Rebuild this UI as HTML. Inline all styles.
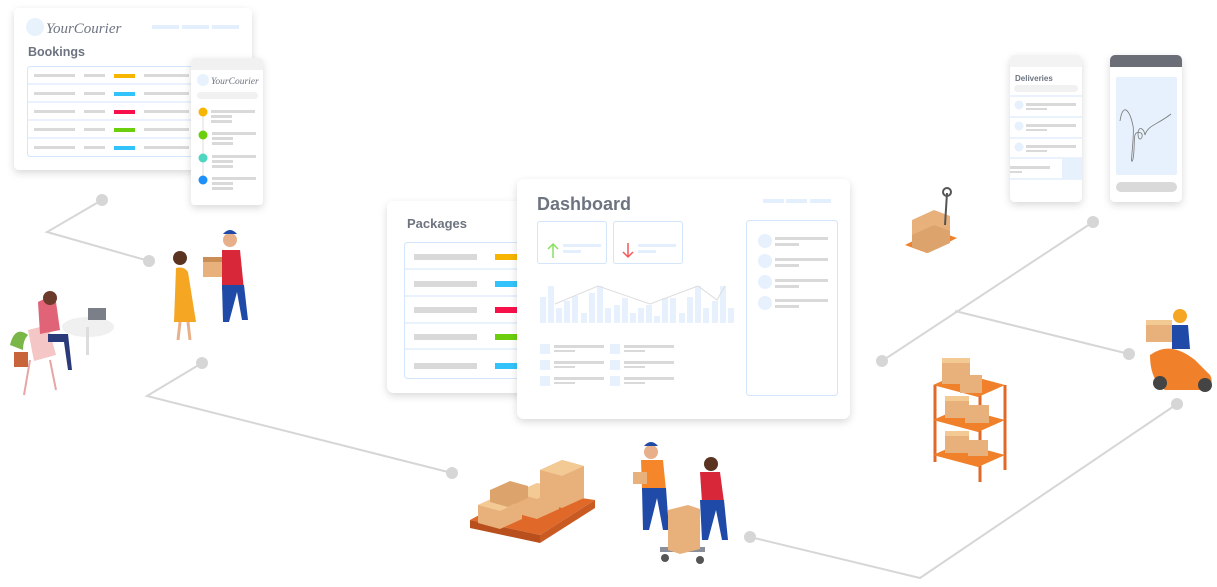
<!DOCTYPE html>
<html><head><meta charset="utf-8"><style>
body{margin:0;background:#fff;width:1217px;height:582px;overflow:hidden;font-family:"Liberation Sans",sans-serif}
</style></head><body>
<svg width="1217" height="582" viewBox="0 0 1217 582" xmlns="http://www.w3.org/2000/svg">
<defs>
<filter id="sh" x="-20%" y="-20%" width="140%" height="150%"><feDropShadow dx="0" dy="3" stdDeviation="4" flood-color="#000" flood-opacity="0.15"/></filter>
</defs>
<g stroke="#d6d6d6" stroke-width="2" fill="none">
<polyline points="102,200 47,232 149,261"/>
<polyline points="202,363 147,396 452,473"/>
<polyline points="750,537 920,578 1177,404"/>
<polyline points="882,361 1093,222"/>
<polyline points="955,311 1129,354"/>
</g>
<g fill="#d6d6d6">
<circle cx="102" cy="200" r="6"/><circle cx="149" cy="261" r="6"/>
<circle cx="202" cy="363" r="6"/><circle cx="452" cy="473" r="6"/>
<circle cx="750" cy="537" r="6"/><circle cx="1177" cy="404" r="6"/>
<circle cx="882" cy="361" r="6"/><circle cx="1093" cy="222" r="6"/>
<circle cx="1129" cy="354" r="6"/>
</g>

<!-- Bookings card -->
<rect x="14" y="8" width="238" height="162" rx="5" fill="#fff" filter="url(#sh)"/>
<circle cx="35" cy="27" r="9" fill="#e8f2fd"/>
<text x="46" y="33" font-family="Liberation Serif,serif" font-style="italic" font-size="15" fill="#6d7480">YourCourier</text>
<rect x="152" y="25" width="27" height="4" fill="#e3effc"/><rect x="182" y="25" width="27" height="4" fill="#e3effc"/><rect x="212" y="25" width="27" height="4" fill="#e3effc"/>
<text x="28" y="56" font-size="12.5" font-weight="bold" fill="#6d7480">Bookings</text>
<rect x="27.5" y="66.5" width="170" height="90" rx="3" fill="#fff" stroke="#d3e6fb"/>
<g stroke="#d3e6fb"><line x1="28" y1="84" x2="197" y2="84"/><line x1="28" y1="102" x2="197" y2="102"/><line x1="28" y1="120" x2="197" y2="120"/><line x1="28" y1="138" x2="197" y2="138"/></g>
<g fill="#d9d9d9">
<rect x="34" y="74" width="41" height="3"/><rect x="84" y="74" width="21" height="3"/><rect x="144" y="74" width="45" height="3"/>
<rect x="34" y="92" width="41" height="3"/><rect x="84" y="92" width="21" height="3"/><rect x="144" y="92" width="45" height="3"/>
<rect x="34" y="110" width="41" height="3"/><rect x="84" y="110" width="21" height="3"/><rect x="144" y="110" width="45" height="3"/>
<rect x="34" y="128" width="41" height="3"/><rect x="84" y="128" width="21" height="3"/><rect x="144" y="128" width="45" height="3"/>
<rect x="34" y="146" width="41" height="3"/><rect x="84" y="146" width="21" height="3"/><rect x="144" y="146" width="45" height="3"/>
</g>
<rect x="114" y="74" width="21" height="4" fill="#f7b500"/><rect x="114" y="92" width="21" height="4" fill="#33c3fb"/><rect x="114" y="110" width="21" height="4" fill="#f7104a"/><rect x="114" y="128" width="21" height="4" fill="#6cce0c"/><rect x="114" y="146" width="21" height="4" fill="#33c3fb"/>

<!-- phone small -->
<rect x="191" y="58" width="72" height="147" rx="4" fill="#fff" filter="url(#sh)"/>
<path d="M191 62 a4 4 0 0 1 4 -4 h64 a4 4 0 0 1 4 4 v8 h-72z" fill="#f1f1f1"/>
<circle cx="203" cy="80" r="6" fill="#e8f2fd"/>
<text x="211" y="84" font-family="Liberation Serif,serif" font-style="italic" font-size="9.5" fill="#6d7480">YourCourier</text>
<rect x="197" y="92" width="61" height="7" rx="3.5" fill="#f1f1f1"/>
<line x1="203" y1="112" x2="203" y2="180" stroke="#ddd"/>
<circle cx="203" cy="112" r="4.5" fill="#f7b500"/><circle cx="203" cy="135" r="4.5" fill="#6cce0c"/><circle cx="203" cy="158" r="4.5" fill="#4ed6c0"/><circle cx="203" cy="180" r="4.5" fill="#1f8ffa"/>
<g fill="#d9d9d9">
<rect x="211" y="110" width="44" height="3"/><rect x="211" y="115" width="21" height="3"/><rect x="211" y="120" width="21" height="3"/>
<rect x="212" y="132" width="44" height="3"/><rect x="212" y="137" width="21" height="3"/><rect x="212" y="142" width="21" height="3"/>
<rect x="212" y="155" width="44" height="3"/><rect x="212" y="160" width="21" height="3"/><rect x="212" y="165" width="21" height="3"/>
<rect x="212" y="177" width="44" height="3"/><rect x="212" y="182" width="21" height="3"/><rect x="212" y="187" width="21" height="3"/>
</g>

<!-- Packages -->
<rect x="387" y="201" width="150" height="192" rx="7" fill="#fff" filter="url(#sh)"/>
<text x="407" y="228" font-size="13" font-weight="bold" fill="#6d7480">Packages</text>
<rect x="404.5" y="242.5" width="120" height="136" rx="3" fill="#fff" stroke="#d3e6fb"/>
<g stroke="#d3e6fb"><line x1="405" y1="269" x2="525" y2="269"/><line x1="405" y1="296" x2="525" y2="296"/><line x1="405" y1="323" x2="525" y2="323"/><line x1="405" y1="349" x2="525" y2="349"/></g>
<g fill="#d9d9d9"><rect x="414" y="254" width="63" height="6"/><rect x="414" y="281" width="63" height="6"/><rect x="414" y="307" width="63" height="6"/><rect x="414" y="334" width="63" height="6"/><rect x="414" y="363" width="63" height="6"/></g>
<rect x="495" y="254" width="25" height="6" fill="#f7b500"/><rect x="495" y="281" width="25" height="6" fill="#33c3fb"/><rect x="495" y="307" width="25" height="6" fill="#f7104a"/><rect x="495" y="334" width="25" height="6" fill="#6cce0c"/><rect x="495" y="363" width="25" height="6" fill="#33c3fb"/>

<!-- Dashboard -->
<rect x="517" y="179" width="333" height="240" rx="7" fill="#fff" filter="url(#sh)"/>
<text x="537" y="210" font-size="18" font-weight="bold" fill="#6d7480">Dashboard</text>
<rect x="763" y="199" width="21" height="4" fill="#e3effc"/><rect x="786" y="199" width="21" height="4" fill="#e3effc"/><rect x="810" y="199" width="21" height="4" fill="#e3effc"/>
<rect x="537.5" y="221.5" width="69" height="42" rx="2" fill="#fff" stroke="#d3e6fb"/>
<rect x="613.5" y="221.5" width="69" height="42" rx="2" fill="#fff" stroke="#d3e6fb"/>
<path d="M553 258 v-14 m-5 5 l5 -5 l5 5" stroke="#86e060" stroke-width="1.5" fill="none"/>
<path d="M628 243 v14 m-5 -5 l5 5 l5 -5" stroke="#f45a5a" stroke-width="1.5" fill="none"/>
<rect x="563" y="244" width="38" height="3" fill="#e3effc"/><rect x="563" y="250" width="18" height="3" fill="#e3effc"/>
<rect x="638" y="244" width="38" height="3" fill="#e3effc"/><rect x="638" y="250" width="18" height="3" fill="#e3effc"/>
<g fill="#e6f1fd">
<rect x="540" y="297" width="6" height="26"/><rect x="548" y="286" width="6" height="37"/><rect x="556" y="308" width="6" height="15"/><rect x="564" y="301" width="6" height="22"/><rect x="572" y="296" width="6" height="27"/><rect x="581" y="313" width="6" height="10"/><rect x="589" y="293" width="6" height="30"/><rect x="597" y="286" width="6" height="37"/><rect x="605" y="308" width="6" height="15"/><rect x="614" y="305" width="6" height="18"/><rect x="622" y="298" width="6" height="25"/><rect x="630" y="313" width="6" height="10"/><rect x="638" y="308" width="6" height="15"/><rect x="646" y="305" width="6" height="18"/><rect x="654" y="316" width="6" height="7"/><rect x="662" y="298" width="6" height="25"/><rect x="670" y="298" width="6" height="25"/><rect x="679" y="313" width="6" height="10"/><rect x="687" y="297" width="6" height="26"/><rect x="695" y="286" width="6" height="37"/><rect x="703" y="308" width="6" height="15"/><rect x="712" y="301" width="6" height="22"/><rect x="720" y="286" width="6" height="37"/><rect x="728" y="308" width="6" height="15"/>
</g>
<polyline points="555,304 598,286 650,304 698,286 717,300 725,286" stroke="#ddd" fill="none"/>
<g fill="#e6f1fd"><rect x="540" y="344" width="10" height="10"/><rect x="540" y="360" width="10" height="10"/><rect x="540" y="376" width="10" height="10"/><rect x="610" y="344" width="10" height="10"/><rect x="610" y="360" width="10" height="10"/><rect x="610" y="376" width="10" height="10"/></g>
<g fill="#d9d9d9"><rect x="554" y="345" width="50" height="3"/><rect x="554" y="350" width="21" height="2"/><rect x="554" y="361" width="50" height="3"/><rect x="554" y="366" width="21" height="2"/><rect x="554" y="377" width="50" height="3"/><rect x="554" y="382" width="21" height="2"/>
<rect x="624" y="345" width="50" height="3"/><rect x="624" y="350" width="21" height="2"/><rect x="624" y="361" width="50" height="3"/><rect x="624" y="366" width="21" height="2"/><rect x="624" y="377" width="50" height="3"/><rect x="624" y="382" width="21" height="2"/></g>
<rect x="746.5" y="220.5" width="91" height="175" rx="3" fill="#fff" stroke="#d3e6fb"/>
<g fill="#e6f1fd"><circle cx="765" cy="241" r="7"/><circle cx="765" cy="261" r="7"/><circle cx="765" cy="282" r="7"/><circle cx="765" cy="303" r="7"/></g>
<g fill="#d9d9d9"><rect x="775" y="237" width="53" height="3"/><rect x="775" y="243" width="24" height="3"/><rect x="775" y="258" width="53" height="3"/><rect x="775" y="264" width="24" height="3"/><rect x="775" y="279" width="53" height="3"/><rect x="775" y="285" width="24" height="3"/><rect x="775" y="299" width="53" height="3"/><rect x="775" y="305" width="24" height="3"/></g>

<!-- Deliveries phone -->
<rect x="1010" y="55" width="72" height="147" rx="5" fill="#fff" filter="url(#sh)"/>
<path d="M1010 60 a5 5 0 0 1 5 -5 h62 a5 5 0 0 1 5 5 v7 h-72z" fill="#f3f3f3"/>
<text x="1015" y="81" font-size="8" font-weight="bold" fill="#6d7480">Deliveries</text>
<rect x="1014" y="85" width="64" height="7" rx="3.5" fill="#f1f1f1"/>
<g stroke="#d3e6fb"><line x1="1010" y1="96" x2="1082" y2="96"/><line x1="1010" y1="117" x2="1082" y2="117"/><line x1="1010" y1="138" x2="1082" y2="138"/><line x1="1010" y1="158" x2="1082" y2="158"/><line x1="1010" y1="179" x2="1082" y2="179"/></g>
<rect x="1062" y="158" width="20" height="21" fill="#e6f1fd"/>
<g fill="#e6f1fd"><circle cx="1019" cy="105" r="4.5"/><circle cx="1019" cy="126" r="4.5"/><circle cx="1019" cy="147" r="4.5"/></g>
<g fill="#d9d9d9"><rect x="1026" y="103" width="50" height="3"/><rect x="1026" y="108" width="21" height="2"/><rect x="1026" y="124" width="50" height="3"/><rect x="1026" y="129" width="21" height="2"/><rect x="1026" y="145" width="50" height="3"/><rect x="1026" y="150" width="21" height="2"/><rect x="1010" y="166" width="40" height="3"/><rect x="1010" y="171" width="12" height="2"/></g>
<!-- Signature phone -->
<rect x="1110" y="55" width="72" height="147" rx="5" fill="#fff" filter="url(#sh)"/>
<path d="M1110 60 a5 5 0 0 1 5 -5 h62 a5 5 0 0 1 5 5 v7 h-72z" fill="#6b6e76"/>
<rect x="1116" y="77" width="61" height="98" rx="2" fill="#e6f1fd"/>
<path d="M1120 121 c3 -20 10 -10 13 5 c2 8 -4 45 0 33 c3 -15 -2 -30 8 -26 c4 3 -3 12 -3 0 c1 -8 6 -4 7 2 c3 -10 12 -10 26 -21" stroke="#777" fill="none" stroke-width="0.8"/>
<rect x="1116" y="182" width="61" height="10" rx="5" fill="#d9d9d9"/>

<!-- Illustrations (approximate) -->
<!-- desk woman -->
<ellipse cx="88" cy="327" rx="26" ry="10" fill="#f0f0f0"/>
<rect x="86" y="327" width="3" height="28" fill="#ddd"/>
<rect x="88" y="308" width="18" height="12" fill="#7a7f88"/>
<path d="M28 330 l20 -5 l8 30 l-22 6z" fill="#f5c6c6"/>
<path d="M38 302 q10 -6 18 0 l4 28 l-20 4z" fill="#e06377"/>
<circle cx="50" cy="298" r="7" fill="#6b3a2a"/>
<path d="M48 334 l20 0 l4 36 l-4 0 l-4 -28 l-16 0z" fill="#2a3a7a"/>
<path d="M30 360 l-6 35 M50 360 l6 30" stroke="#e7a5a5" stroke-width="2"/>
<path d="M10 345 q5 -20 18 -10 q-5 5 -5 15z" fill="#7ab648"/>
<rect x="14" y="352" width="14" height="15" fill="#c8643a"/>
<!-- handover -->
<circle cx="180" cy="258" r="7" fill="#5a3420"/>
<path d="M176 268 q8 -2 12 4 l8 50 l-22 0 z" fill="#f5a623"/>
<path d="M180 322 l-2 18 M188 322 l2 18" stroke="#e8b08a" stroke-width="3"/>
<rect x="203" y="257" width="26" height="20" fill="#e8b07a"/>
<rect x="203" y="257" width="26" height="5" fill="#c98d55"/>
<circle cx="230" cy="240" r="7" fill="#e8b08a"/>
<path d="M223 234 q7 -8 14 0z" fill="#1f4aa8"/>
<path d="M222 250 l18 0 l4 40 l-22 0z" fill="#d9273a"/>
<path d="M222 285 l22 0 l4 35 l-6 0 l-5 -28 l-8 30 l-6 0z" fill="#1f4aa8"/>
<!-- pallet boxes -->
<path d="M470 520 l55 -30 l70 10 l-55 35z" fill="#e0692a"/>
<path d="M470 520 l0 8 l70 15 l0 -8z" fill="#b84f1c"/>
<path d="M540 535 l55 -35 l0 8 l-55 35z" fill="#c85a22"/>
<g>
<path d="M478 505 l22 -10 l22 6 l0 18 l-22 10 l-22 -6z" fill="#e8b07a"/>
<path d="M500 495 l22 6 l-22 10 l-22 -6z" fill="#f3c994"/>
<path d="M515 493 l22 -10 l22 6 l0 20 l-22 10 l-22 -6z" fill="#e8b07a"/>
<path d="M537 483 l22 6 l-22 10 l-22 -6z" fill="#f3c994"/>
<path d="M540 470 l22 -10 l22 6 l0 32 l-22 10 l-22 -6z" fill="#e8b07a"/>
<path d="M562 460 l22 6 l-22 10 l-22 -6z" fill="#f3c994"/>
<path d="M490 490 l20 -9 l18 5 l0 12 l-20 9 l-18 -5z" fill="#dca46c"/>
</g>
<!-- workers -->
<circle cx="651" cy="452" r="7" fill="#e8b08a"/>
<path d="M644 446 q7 -8 14 0z" fill="#1f4aa8"/>
<path d="M641 460 l22 0 l3 30 l-24 0z" fill="#f5872a"/>
<path d="M642 488 l24 0 l3 42 l-6 0 l-6 -32 l-8 32 l-6 0z" fill="#1f4aa8"/>
<rect x="633" y="472" width="14" height="12" fill="#e8b07a"/>
<circle cx="711" cy="464" r="7" fill="#5a3420"/>
<path d="M700 472 l20 0 l4 30 l-22 0z" fill="#d9273a"/>
<path d="M700 500 l24 0 l4 40 l-6 0 l-6 -30 l-8 30 l-6 0z" fill="#1f4aa8"/>
<path d="M660 552 l45 0 l0 -5 l-45 0z" fill="#8a8f99"/>
<path d="M668 510 l20 -5 l12 4 l0 40 l-20 5 l-12 -4z" fill="#e8b07a"/>
<circle cx="665" cy="558" r="4" fill="#555"/><circle cx="700" cy="560" r="4" fill="#555"/>
<!-- pallet jack -->
<path d="M905 245 l30 -15 l22 8 l-30 15z" fill="#f0812a"/>
<path d="M912 220 l22 -10 l16 6 l0 16 l-22 10 l-16 -6z" fill="#e8b07a"/>
<path d="M912 235 l22 -10 l16 6 l0 12 l-22 10 l-16 -6z" fill="#dca46c"/>
<path d="M945 225 l2 -32" stroke="#555" stroke-width="2"/>
<circle cx="947" cy="192" r="4" fill="none" stroke="#555" stroke-width="2"/>
<!-- shelf -->
<g stroke="#e0692a" stroke-width="3">
<line x1="935" y1="385" x2="935" y2="462"/><line x1="980" y1="395" x2="980" y2="482"/><line x1="1005" y1="385" x2="1005" y2="470"/>
</g>
<path d="M933 385 l45 12 l27 -12 l-45 -12z M933 420 l45 12 l27 -12 l-45 -12z M933 455 l45 12 l27 -12 l-45 -12z" fill="#f0812a"/>
<g fill="#e8b07a">
<rect x="942" y="362" width="28" height="22"/><rect x="960" y="375" width="22" height="18"/>
<rect x="945" y="400" width="24" height="18"/><rect x="965" y="405" width="24" height="18"/>
<rect x="945" y="435" width="24" height="18"/><rect x="968" y="440" width="20" height="16"/>
</g>
<g fill="#f3c994"><rect x="942" y="358" width="28" height="5"/><rect x="945" y="396" width="24" height="5"/><rect x="945" y="431" width="24" height="5"/></g>
<!-- scooter -->
<path d="M1150 355 q20 -15 45 5 l15 15 q5 10 -5 15 l-40 0 q-15 -10 -15 -35z" fill="#f0812a"/>
<circle cx="1160" cy="383" r="7" fill="#444"/><circle cx="1205" cy="385" r="7" fill="#444"/>
<rect x="1146" y="320" width="26" height="22" fill="#e8b07a"/>
<rect x="1146" y="320" width="26" height="5" fill="#f3c994"/>
<circle cx="1180" cy="316" r="7" fill="#f5a623"/>
<path d="M1172 325 l16 0 l2 24 l-18 0z" fill="#1f4aa8"/>
</svg>
</body></html>
